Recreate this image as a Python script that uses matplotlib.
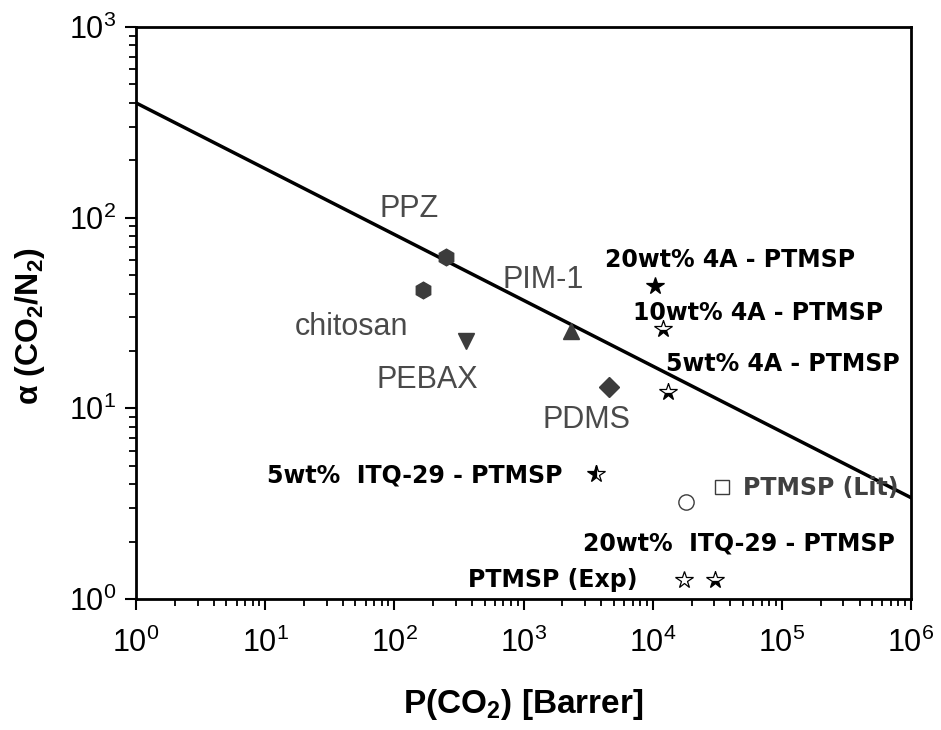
import matplotlib
matplotlib.use("Agg")
import matplotlib.pyplot as plt
from matplotlib.ticker import LogLocator, LogFormatterMathtext, NullFormatter

plt.rcParams["font.family"] = ["Liberation Sans", "DejaVu Sans"]
plt.rcParams["mathtext.default"] = "regular"

# upper bound line
bound_p = [1, 1e6]
bound_a = [400, 3.4]

# polymer membranes (gray markers)
poly_names = ["PPZ", "chitosan", "PEBAX", "PIM-1", "PDMS"]
poly_p = [251, 167, 358, 2330, 4590]
poly_a = [62, 41.7, 22.5, 25.4, 12.9]
poly_marker = ["h", "h", "v", "^", "D"]

# PTMSP based membranes (stars)
mmm_names = ["20wt% 4A - PTMSP", "10wt% 4A - PTMSP", "5wt% 4A - PTMSP",
             "5wt%  ITQ-29 - PTMSP", "PTMSP (Exp)", "20wt%  ITQ-29 - PTMSP"]
mmm_p = [10400, 12000, 13100, 3640, 17500, 30400]
mmm_a = [43.8, 26.0, 12.2, 4.5, 1.26, 1.26]
mmm_fill = ["full", "bottom", "bottom", "left", "none", "bottom"]

# other points
lit_p, lit_a = 34300, 3.87
circ_p, circ_a = 18070, 3.23

x_ticks = [1, 1e1, 1e2, 1e3, 1e4, 1e5, 1e6]
y_ticks = [1, 1e1, 1e2, 1e3]


def px(x, y):
    # pixel position in the picture -> data coordinates
    return 10 ** ((x - 136) / 129.2), 10 ** ((599 - y) / 190.7)


fig = plt.figure(figsize=(9.41, 7.3), dpi=100)
ax = fig.add_axes([136 / 941, 131 / 730, 775 / 941, 572 / 730])
ax.set_xscale("log")
ax.set_yscale("log")

ax.plot(bound_p, bound_a, color="black", lw=2.5, zorder=2)

for p, a, m in zip(poly_p, poly_a, poly_marker):
    ax.plot(p, a, marker=m, color="#3c3c3c", ms=12 if m != "D" else 10,
            ls="none", zorder=3)

for p, a, f in zip(mmm_p, mmm_a, mmm_fill):
    ax.plot(p, a, marker="*", ms=13, ls="none", fillstyle=f,
            markerfacecolor="black", markerfacecoloralt="white",
            markeredgecolor="black", markeredgewidth=0.9, zorder=3)

ax.plot(lit_p, lit_a, marker="s", ms=10, mfc="white", mec="#3c3c3c",
        mew=1, ls="none", zorder=3)
ax.plot(circ_p, circ_a, marker="o", ms=11, mfc="white", mec="#3c3c3c",
        mew=1, ls="none", zorder=3)

gray = "#4a4a4a"
gray_labels = [("PPZ", 380, 217), ("chitosan", 295, 335), ("PEBAX", 377, 388),
               ("PIM-1", 503, 288), ("PDMS", 543, 428)]
for t, x, y in gray_labels:
    ax.text(*px(x, y), t, color=gray, fontsize=22, ha="left", va="baseline")

bold_labels = [(mmm_names[0], 605, 267), (mmm_names[1], 633, 320),
               (mmm_names[2], 666, 371), (mmm_names[3], 267, 482),
               (mmm_names[5], 583, 550), (mmm_names[4], 468, 587)]
for t, x, y in bold_labels:
    ax.text(*px(x, y), t, color="black", fontsize=17, fontweight="bold",
            family="DejaVu Sans", ha="left", va="baseline")
ax.text(*px(743, 495), "PTMSP (Lit)", color="#404040", fontsize=17,
        fontweight="bold", family="DejaVu Sans", ha="left", va="baseline")

ax.set_xticks(x_ticks)
ax.set_yticks(y_ticks)
ax.xaxis.set_minor_locator(LogLocator(base=10, subs=range(2, 10), numticks=10))
ax.yaxis.set_minor_locator(LogLocator(base=10, subs=range(2, 10), numticks=10))
ax.xaxis.set_major_formatter(LogFormatterMathtext())
ax.yaxis.set_major_formatter(LogFormatterMathtext())
ax.xaxis.set_minor_formatter(NullFormatter())
ax.yaxis.set_minor_formatter(NullFormatter())
ax.set_xlim(1, 1e6)
ax.set_ylim(1, 1e3)

ax.tick_params(which="major", direction="out", length=8, width=1.5,
               labelsize=22, pad=6, top=False, right=False)
ax.tick_params(axis="x", which="major", pad=13)
ax.tick_params(which="minor", direction="out", length=5, width=1.3,
               top=False, right=False)
for s in ax.spines.values():
    s.set_linewidth(2)

ax.set_xlabel("P(CO$_2$) [Barrer]", fontsize=24, fontweight="bold", labelpad=20)
ax.set_ylabel(r"$\alpha$ (CO$_2$/N$_2$)", fontsize=23, fontweight="bold")
ax.yaxis.set_label_coords(-0.115, 0.477)

fig.savefig("out.png", dpi=100)
